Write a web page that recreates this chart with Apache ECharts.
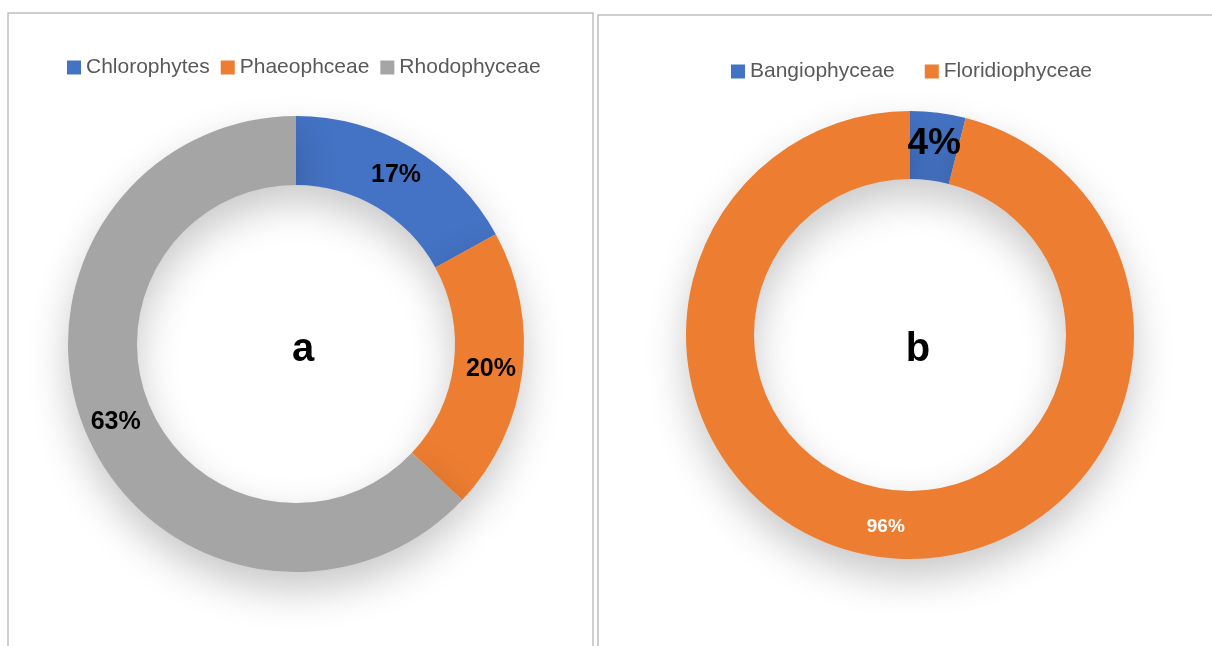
<!DOCTYPE html>
<html>
<head>
<meta charset="utf-8">
<script src="https://cdn.jsdelivr.net/npm/echarts@6/dist/echarts.min.js"></script>
<style>
  html, body { margin: 0; padding: 0; background: #fff; }
  #chart { width: 1212px; height: 646px; }
</style>
</head>
<body>
<div id="chart"></div>
<script>
  // panel a
  const namesA = ['Chlorophytes', 'Phaeophceae', 'Rhodophyceae'];
  const valuesA = [17, 20, 63];
  // panel b
  const namesB = ['Bangiophyceae', 'Floridiophyceae'];
  const valuesB = [4, 96];

  const colors = ['#4472C4', '#ED7D31', '#A5A5A5'];
  const font = '"Liberation Sans", Arial, sans-serif';

  const chart = echarts.init(document.getElementById('chart'));

  const shadow = {
    shadowBlur: 40,
    shadowOffsetY: 18,
    shadowColor: 'rgba(0,0,0,0.22)'
  };

  const option = {
    animation: false,
    color: colors,
    textStyle: { fontFamily: font },
    graphic: [
      { type: 'rect', shape: { x: 8, y: 13, width: 585, height: 700 },
        style: { fill: 'none', stroke: '#bfbfbf', lineWidth: 1.5 } },
      { type: 'rect', shape: { x: 598, y: 15, width: 640, height: 700 },
        style: { fill: 'none', stroke: '#bfbfbf', lineWidth: 1.5 } }
    ],
    title: [
      { text: 'a', left: 298, top: 345, textAlign: 'center', textVerticalAlign: 'middle',
        textStyle: { fontSize: 40, fontWeight: 'bold', color: '#000', fontFamily: font } },
      { text: 'b', left: 913, top: 345, textAlign: 'center', textVerticalAlign: 'middle',
        textStyle: { fontSize: 40, fontWeight: 'bold', color: '#000', fontFamily: font } }
    ],
    legend: [
      {
        data: namesA, left: 62, top: 52, itemGap: 11,
        itemWidth: 14, itemHeight: 14, icon: 'rect',
        textStyle: { fontSize: 21, color: '#595959', fontFamily: font }
      },
      {
        data: namesB, left: 726, top: 56, itemGap: 30,
        itemWidth: 14, itemHeight: 14, icon: 'rect',
        textStyle: { fontSize: 21, color: '#595959', fontFamily: font }
      }
    ],
    series: [
      {
        type: 'pie',
        center: [296, 344],
        radius: [159, 228],
        startAngle: 90,
        clockwise: true,
        silent: true,
        itemStyle: Object.assign({}, shadow),
        label: {
          position: 'inside',
          formatter: '{c}%',
          fontSize: 25, fontWeight: 'bold', color: '#000', fontFamily: font
        },
        labelLine: { show: false },
        data: namesA.map((n, i) => ({ name: n, value: valuesA[i] }))
      },
      {
        type: 'pie',
        center: [910, 335],
        radius: [156, 224],
        startAngle: 90,
        clockwise: true,
        silent: true,
        itemStyle: Object.assign({}, shadow),
        label: {
          position: 'inside',
          formatter: '{c}%',
          fontFamily: font
        },
        labelLine: { show: false },
        data: [
          { name: namesB[0], value: valuesB[0],
            label: { fontSize: 37, fontWeight: 'bold', color: '#000' } },
          { name: namesB[1], value: valuesB[1],
            label: { fontSize: 19, fontWeight: 'bold', color: '#fff' } }
        ]
      }
    ]
  };

  chart.setOption(option);
</script>
</body>
</html>
